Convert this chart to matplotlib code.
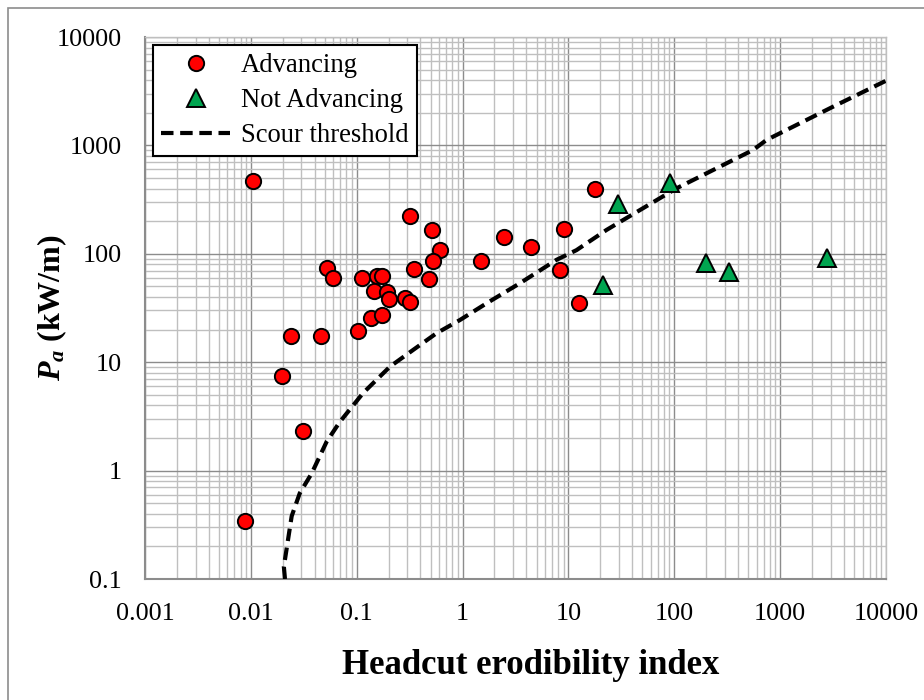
import matplotlib
matplotlib.use('Agg')
from matplotlib import pyplot as plt
from matplotlib.patches import Rectangle

plt.rcParams['font.family'] = 'Liberation Serif'
plt.rcParams['mathtext.fontset'] = 'custom'
plt.rcParams['mathtext.it'] = 'Liberation Serif:bold:italic'
plt.rcParams['mathtext.rm'] = 'Liberation Serif:bold'

# advancing headcuts
adv_x = [0.0105, 0.32, 0.51, 0.61, 0.53, 0.052, 0.06, 0.111, 0.157, 0.172, 0.35, 0.48,
         0.145, 0.195, 0.2, 0.285, 0.32, 0.135, 0.175, 0.103, 0.024, 0.046, 0.0196,
         0.031, 0.0088, 17.7, 9.1, 2.45, 4.4, 1.5, 8.3, 12.5]
adv_y = [470, 225, 165, 108, 85, 74, 60, 60, 63, 63, 72, 58,
         45, 44, 38, 39, 36, 25.5, 27.5, 19.5, 17.5, 17.5, 7.4,
         2.3, 0.34, 395, 168, 142, 116, 85, 71, 35]

# not advancing headcuts
not_x = [29.5, 91, 21, 200, 330, 2800]
not_y = [290, 450, 52, 83, 68, 92]

# scour threshold line
thr_x = [0.021, 0.0205, 0.0243, 0.029, 0.0375, 0.052, 0.069, 0.115, 0.206, 0.342, 0.567,
         0.944, 1.69, 3.48, 7.72, 11.9, 22.9, 105, 174, 555, 743, 3160, 10000]
thr_y = [0.1, 0.13, 0.38, 0.62, 0.94, 1.85, 2.8, 5.2, 9.1, 13.0, 18.5,
         24.5, 35, 53.5, 88, 108, 166, 402, 514, 907, 1122, 2275, 3950]

fig = plt.figure(figsize=(9.24, 7), dpi=100)
fig.patches.append(Rectangle((8 / 924, -0.1), 1.2, (692 + 70) / 700, transform=fig.transFigure,
                             fill=False, ec='#8c8c8c', lw=1.2))
ax = fig.add_axes([145 / 924, 121 / 700, 741 / 924, 542 / 700])

ax.plot(adv_x, adv_y, 'o', ms=11, mfc='#ff0000', mec='black', mew=1.4, ls='none',
        label='Advancing', zorder=4)
ax.plot(not_x, not_y, '^', ms=13, mfc='#00a550', mec='black', mew=1.4, ls='none',
        label='Not Advancing', zorder=4)
ax.plot(thr_x, thr_y, c='black', lw=3.0, ls=(0, (3.0, 1.6)), label='Scour threshold', zorder=3)

ax.set_xscale('log')
ax.set_yscale('log')
ax.set_xlim(0.001, 10000)
ax.set_ylim(0.1, 10000)

ax.grid(which='major', c='#8c8c8c', lw=1.0)
ax.grid(which='minor', c='#bfbfbf', lw=1.0)
ax.set_axisbelow(True)
ax.xaxis.set_minor_locator(matplotlib.ticker.LogLocator(base=10, subs=range(2, 10), numticks=20))
ax.yaxis.set_minor_locator(matplotlib.ticker.LogLocator(base=10, subs=range(2, 10), numticks=20))
ax.xaxis.set_minor_formatter(matplotlib.ticker.NullFormatter())
ax.yaxis.set_minor_formatter(matplotlib.ticker.NullFormatter())

xticks = [0.001, 0.01, 0.1, 1, 10, 100, 1000, 10000]
yticks = [0.1, 1, 10, 100, 1000, 10000]
ax.set_xticks(xticks)
ax.set_xticklabels(['0.001', '0.01', '0.1', '1', '10', '100', '1000', '10000'])
ax.set_yticks(yticks)
ax.set_yticklabels(['0.1', '1', '10', '100', '1000', '10000'])
ax.tick_params(which='both', length=0, labelsize=18.8)
ax.tick_params(axis='x', pad=17)
ax.tick_params(axis='y', pad=17)

for s in ['left', 'bottom']:
    ax.spines[s].set_color('#8c8c8c')
    ax.spines[s].set_linewidth(1.5)
for s in ['top', 'right']:
    ax.spines[s].set_color('#bfbfbf')
    ax.spines[s].set_linewidth(1.0)

ax.set_xlabel('Headcut erodibility index', fontsize=25, fontweight='bold')
ax.set_ylabel(r'$P_a$ (kW/m)', fontsize=23, fontweight='bold')
ax.xaxis.set_label_coords(0.52, -0.13)
ax.yaxis.set_label_coords(-0.103, 0.5)

leg = ax.legend(loc='upper left', bbox_to_anchor=(0.0108, 0.985), borderaxespad=0,
                fontsize=19.2, fancybox=False, framealpha=1, edgecolor='black',
                handlelength=2.6, handletextpad=0.4, borderpad=0.3, labelspacing=0.38)
leg.get_frame().set_linewidth(1.5)

fig.savefig('out.png', dpi=100)
